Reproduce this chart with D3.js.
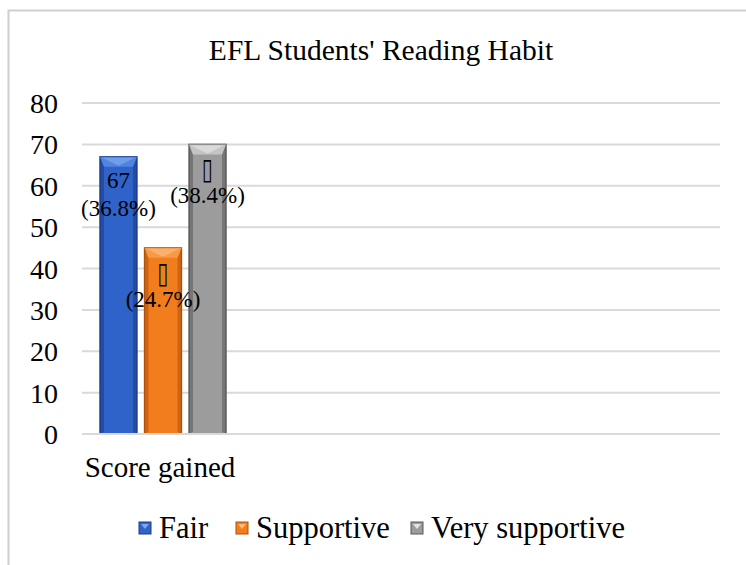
<!DOCTYPE html>
<html><head><meta charset="utf-8">
<script src="https://cdn.jsdelivr.net/npm/d3@7"></script>
<style>body{margin:0;background:#fff}svg{display:block}text{font-family:"Liberation Serif","Times New Roman",serif;fill:#000}</style>
</head><body><svg id="c" width="746" height="565"></svg>
<script>
const title = "EFL Students' Reading Habit";
const categories = ["Score gained"];
const seriesNames = ["Fair", "Supportive", "Very supportive"];
const seriesValues = [67, 45, 70];
const valueLabels = ["67", "\u25AF", "\u25AF"];
const percentLabels = ["(36.8%)", "(24.7%)", "(38.4%)"];
const yTicks = [0, 10, 20, 30, 40, 50, 60, 70, 80];
const palette = [
  {main:"#2f63c9", light:"#7fa6ec", dark:"#1b3b85", top:"#4f84df"},
  {main:"#f27d1c", light:"#fbbb80", dark:"#b0520c", top:"#f79a48"},
  {main:"#9c9c9c", light:"#e4e4e4", dark:"#585858", top:"#c4c4c4"}
];

const svg = d3.select("#c");
svg.append("rect").attr("x",8.5).attr("y",10.5).attr("width",760).attr("height",600)
  .attr("fill","#fff").attr("stroke","#cfcfcf").attr("stroke-width",2);

const y = d3.scaleLinear().domain([0,80]).range([434,103]);
const x0 = d3.scaleBand().domain(categories).range([82,238]);
const x1 = d3.scaleBand().domain(seriesNames).range([x0.range()[0]+18, x0.range()[0]+144]).paddingInner(0.17);
const plotRight = 720;

svg.append("g").selectAll("line").data(yTicks).join("line")
  .attr("x1",82).attr("x2",plotRight).attr("y1",d=>y(d)).attr("y2",d=>y(d))
  .attr("stroke","#d9d9d9").attr("stroke-width",2);

const yAxis = d3.axisLeft(y).tickValues(yTicks).tickSize(0).tickPadding(0);
const ga = svg.append("g").attr("transform","translate(58,0)").call(yAxis);
ga.attr("font-family",null).attr("font-size",null);
ga.select(".domain").remove();
ga.selectAll("text").style("font-size","28px").style("font-family","'Liberation Serif', serif").attr("fill","#000").attr("dy","0.34em");

const data = seriesValues.map((v,i)=>({v,i,name:seriesNames[i]}));
const geom = d => {
  const bx = x0(categories[0]) + (x1(d.name)-x0.range()[0]);
  return {bx, bw:x1.bandwidth(), by:y(d.v), bh:y(0)-y(d.v)};
};

const bars = svg.append("g").selectAll("g").data(data).join("g");
bars.each(function(d){
  const g = d3.select(this);
  const c = palette[d.i];
  const {bx,bw,by,bh} = geom(d);
  const s = 4, t = 10;
  g.append("rect").attr("x",bx).attr("y",by).attr("width",bw).attr("height",bh).attr("fill",c.main).attr("stroke",c.dark).attr("stroke-width",1.4);
  g.append("polygon").attr("points",[[bx,by],[bx+s,by+t],[bx+s,by+bh-2],[bx,by+bh]].join(" ")).attr("fill",c.dark).attr("opacity",0.55);
  g.append("polygon").attr("points",[[bx+bw,by],[bx+bw-s,by+t],[bx+bw-s,by+bh-2],[bx+bw,by+bh]].join(" ")).attr("fill",c.dark).attr("opacity",0.55);
  g.append("polygon").attr("points",[[bx,by],[bx+bw,by],[bx+bw-s,by+t],[bx+s,by+t]].join(" ")).attr("fill",c.top);
  g.append("polygon").attr("points",[[bx+2,by+1],[bx+bw-2,by+1],[bx+bw/2,by+t-1]].join(" ")).attr("fill",c.light).attr("opacity",0.7);
});

const labels = svg.append("g").selectAll("g").data(data).join("g");
labels.each(function(d){
  const g = d3.select(this);
  const {bx,bw,by} = geom(d);
  const cx = bx + bw/2;
  const vl = g.append("text").attr("x",cx).attr("y",by+31).attr("text-anchor","middle").style("font-size","23px").text(valueLabels[d.i]);
  if (valueLabels[d.i] === "\u25AF") {
    const yb = by+35;
    vl.style("font-family","'DejaVu Sans', sans-serif").style("font-size","28px").attr("y",yb)
      .attr("transform",`translate(${cx},${yb}) scale(0.72,1.05) translate(${-cx},${-yb})`);
  }
  g.append("text").attr("x",cx).attr("y",by+59).attr("text-anchor","middle").style("font-size","23px").text(percentLabels[d.i]);
});

svg.append("line").attr("x1",82).attr("x2",plotRight).attr("y1",y(0)).attr("y2",y(0)).attr("stroke","#d9d9d9").attr("stroke-width",2);

svg.append("text").attr("x",x0(categories[0])+x0.bandwidth()/2).attr("y",477).attr("text-anchor","middle").style("font-size","29px").text(categories[0]);

svg.append("text").attr("x",381).attr("y",60).attr("text-anchor","middle").style("font-size","29.5px").text(title);

const legX = [139, 236, 411];
const lg = svg.append("g").selectAll("g").data(seriesNames).join("g").attr("transform",(d,i)=>`translate(${legX[i]},522)`);
lg.each(function(d,i){
  const g = d3.select(this), c = palette[i];
  g.append("rect").attr("x",0).attr("y",0).attr("width",12).attr("height",12).attr("fill",c.main).attr("stroke",c.dark);
  g.append("polygon").attr("points","2,2 10,2 6,7").attr("fill",c.light);
  g.append("text").attr("x",20).attr("y",16).style("font-size","30.5px").text(d);
});
</script></body></html>
